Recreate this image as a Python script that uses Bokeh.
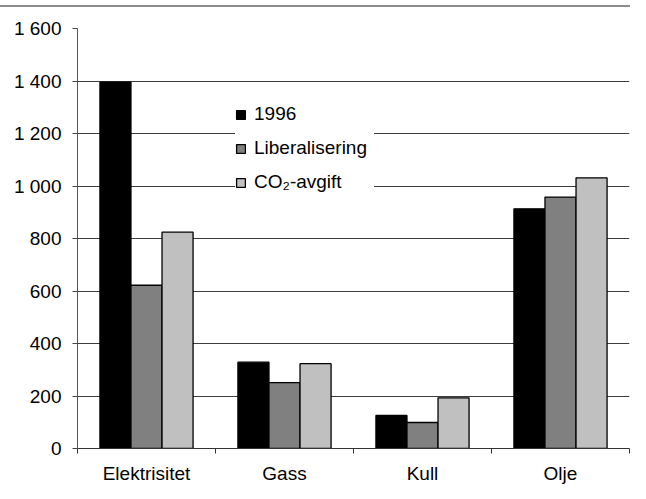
from bokeh.plotting import figure
from bokeh.models import ColumnDataSource, FixedTicker, Range1d, Legend, LegendItem, Div
from bokeh.layouts import column
from bokeh.embed import file_html
from bokeh.resources import INLINE

categories = ["Elektrisitet", "Gass", "Kull", "Olje"]
series_names = ["1996", "Liberalisering", "CO\u2082-avgift"]
v_1996 = [1396, 329, 126, 913]
v_liberalisering = [622, 251, 99, 958]
v_co2 = [824, 323, 193, 1031]
y_ticks = [0, 200, 400, 600, 800, 1000, 1200, 1400, 1600]
y_tick_labels = ["0", "200", "400", "600", "800", "1 000", "1 200", "1 400", "1 600"]

colors = ["#000000", "#808080", "#c0c0c0"]
offsets = [-0.225, 0.0, 0.225]
FONT = "Liberation Sans"
FS = "19px"

p = figure(frame_width=552, frame_height=420, output_backend="svg", toolbar_location=None,
           x_range=Range1d(0, len(categories)), y_range=Range1d(0, 1600),
           min_border_left=77, min_border_right=1, min_border_top=21, min_border_bottom=35)
p.outline_line_color = None
p.background_fill_color = "white"

renderers = []
for vals, col, off in zip([v_1996, v_liberalisering, v_co2], colors, offsets):
    src = ColumnDataSource(dict(x=[i + 0.5 + off for i in range(len(categories))], top=vals))
    r = p.vbar(x="x", top="top", bottom=0, width=0.225, source=src,
               fill_color=col, line_color="black", line_width=1.3)
    renderers.append(r)

# x axis: labels at centers, tick marks at boundaries
xa = p.xaxis[0]
xa.ticker = FixedTicker(ticks=[i + 0.5 for i in range(len(categories))],
                        minor_ticks=list(range(len(categories) + 1)))
xa.major_label_overrides = {i + 0.5: c for i, c in enumerate(categories)}
xa.major_tick_out = 0
xa.major_tick_in = 0
xa.minor_tick_out = 5
xa.minor_tick_in = 0
xa.minor_tick_line_color = "#333333"
xa.axis_line_color = "#333333"
xa.major_label_text_font = FONT
xa.major_label_text_font_size = FS
xa.major_label_text_color = "black"
xa.major_label_standoff = 9

ya = p.yaxis[0]
ya.ticker = FixedTicker(ticks=y_ticks, minor_ticks=[])
ya.major_label_overrides = {t: l for t, l in zip(y_ticks, y_tick_labels)}
ya.major_tick_out = 5
ya.major_tick_in = 0
ya.major_tick_line_color = "#444444"
ya.axis_line_color = "#555555"
ya.major_label_text_font = FONT
ya.major_label_text_font_size = FS
ya.major_label_text_color = "black"
ya.major_label_standoff = 11

p.xgrid.grid_line_color = None
p.ygrid.ticker = FixedTicker(ticks=y_ticks)
p.ygrid.grid_line_color = "#3c3c3c"
p.ygrid.grid_line_width = 1.2

legend = Legend(items=[LegendItem(label=n, renderers=[r]) for n, r in zip(series_names, renderers)],
                location=(158, 255), border_line_color=None, background_fill_color="white",
                background_fill_alpha=1.0, padding=8, margin=0, spacing=12,
                label_height=22, glyph_height=11, glyph_width=11, label_standoff=8,
                label_width=120, label_text_font=FONT, label_text_font_size=FS,
                label_text_color="black")
p.add_layout(legend, "center")

# grey rule above the chart
rule = Div(text="", width=630, height=2, margin=(5, 0, 0, 0),
           styles={"background-color": "#8c8c8c"})
layout = column(rule, p, spacing=0)

open("out.html", "w").write(file_html(layout, INLINE))
